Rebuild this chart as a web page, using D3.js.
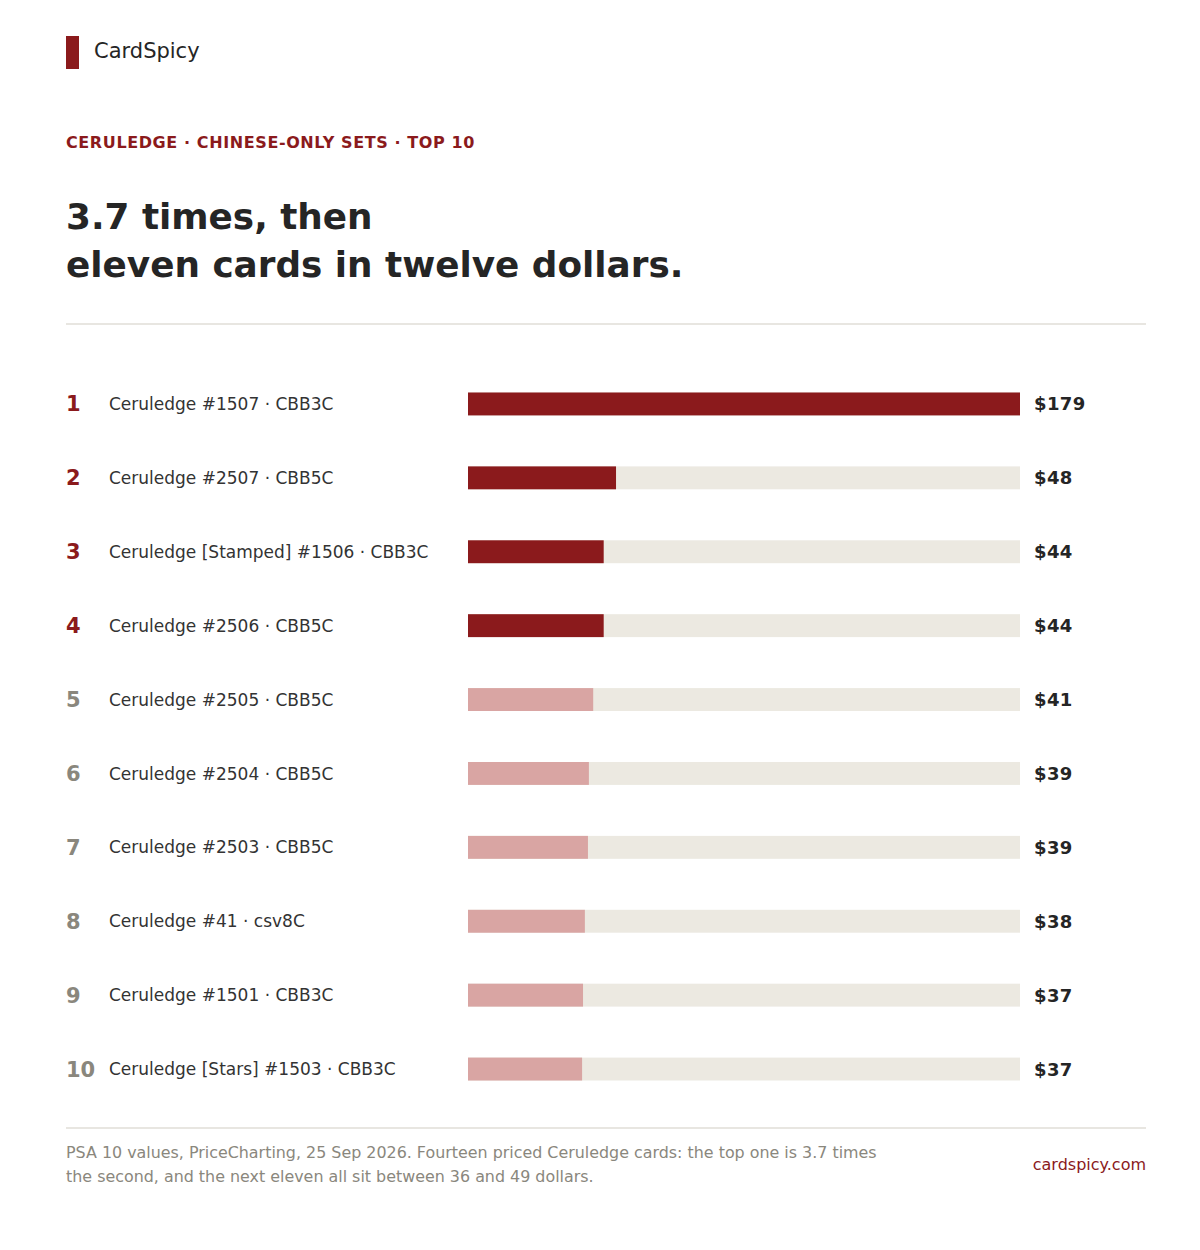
<!DOCTYPE html>
<html><head><meta charset="utf-8">
<script src="https://cdn.jsdelivr.net/npm/d3@7"></script>
<style>
html,body{margin:0;padding:0;background:#fff;}
svg{display:block;font-family:"DejaVu Sans",sans-serif;}
</style></head>
<body>
<script>
const ranks = [1,2,3,4,5,6,7,8,9,10];
const cards = [
  "Ceruledge #1507 · CBB3C",
  "Ceruledge #2507 · CBB5C",
  "Ceruledge [Stamped] #1506 · CBB3C",
  "Ceruledge #2506 · CBB5C",
  "Ceruledge #2505 · CBB5C",
  "Ceruledge #2504 · CBB5C",
  "Ceruledge #2503 · CBB5C",
  "Ceruledge #41 · csv8C",
  "Ceruledge #1501 · CBB3C",
  "Ceruledge [Stars] #1503 · CBB3C"
];
const values = [179, 48, 44, 44, 40.6, 39.2, 38.9, 37.9, 37.3, 37.0];
const valueLabels = ["$179","$48","$44","$44","$41","$39","$39","$38","$37","$37"];
const highlighted = [true,true,true,true,false,false,false,false,false,false];

const W = 1200, H = 1250;
const RED = "#8b1a1c", PINK = "#d9a5a3", TRACK = "#ece9e1", DARK = "#252525", GRAY = "#8a877d";

const svg = d3.select("body").append("svg").attr("width", W).attr("height", H);

// Header
svg.append("rect").attr("x",66).attr("y",36).attr("width",13).attr("height",33).attr("fill",RED);
svg.append("text").attr("x",94).attr("y",58).attr("font-size",21).attr("fill",DARK).text("CardSpicy");

svg.append("text").attr("x",66).attr("y",148).attr("font-size",16).attr("font-weight","bold")
  .attr("letter-spacing","0.6").attr("fill",RED).text("CERULEDGE · CHINESE-ONLY SETS · TOP 10");

const title = svg.append("text").attr("font-size",35.8).attr("font-weight","bold").attr("fill",DARK);
title.append("tspan").attr("x",66).attr("y",229).text("3.7 times, then");
title.append("tspan").attr("x",66).attr("y",277).text("eleven cards in twelve dollars.");

svg.append("line").attr("x1",66).attr("x2",1146).attr("y1",324).attr("y2",324).attr("stroke","#e8e6e1").attr("stroke-width",2);

// Chart
const x = d3.scaleLinear().domain([0, d3.max(values)]).range([468, 1020]);
const y = d3.scaleBand().domain(ranks).range([367, 1106]).paddingInner(0.69).paddingOuter(0.345);

const rows = svg.append("g").selectAll("g").data(ranks).join("g")
  .attr("transform", d => `translate(0,${y(d)})`);
const bh = y.bandwidth();

rows.append("rect").attr("x", x(0)).attr("y",0).attr("width", x.range()[1]-x(0)).attr("height", bh).attr("fill", TRACK);
rows.append("rect").attr("x", x(0)).attr("y",0).attr("width", (d,i)=> x(values[i]) - x(0)).attr("height", bh)
  .attr("fill", (d,i)=> highlighted[i] ? RED : PINK);

rows.append("text").attr("x",66).attr("y", bh/2).attr("dy","0.36em").attr("font-size",21).attr("font-weight","bold")
  .attr("fill",(d,i)=> highlighted[i] ? RED : GRAY).text(d=>d);
rows.append("text").attr("x",109).attr("y", bh/2).attr("dy","0.36em").attr("font-size",17)
  .attr("fill","#333").text((d,i)=>cards[i]);
rows.append("text").attr("x",1034).attr("y", bh/2).attr("dy","0.36em").attr("font-size",18).attr("font-weight","bold")
  .attr("letter-spacing","0.4").attr("fill",DARK).text((d,i)=>valueLabels[i]);

// Footer
svg.append("line").attr("x1",66).attr("x2",1146).attr("y1",1128).attr("y2",1128).attr("stroke","#e8e6e1").attr("stroke-width",2);
const foot = svg.append("text").attr("font-size",15.9).attr("fill",GRAY);
foot.append("tspan").attr("x",66).attr("y",1158).text("PSA 10 values, PriceCharting, 25 Sep 2026. Fourteen priced Ceruledge cards: the top one is 3.7 times");
foot.append("tspan").attr("x",66).attr("y",1182).text("the second, and the next eleven all sit between 36 and 49 dollars.");
svg.append("text").attr("x",1146).attr("y",1170).attr("text-anchor","end").attr("font-size",16).attr("fill",RED).text("cardspicy.com");
</script>
</body></html>
